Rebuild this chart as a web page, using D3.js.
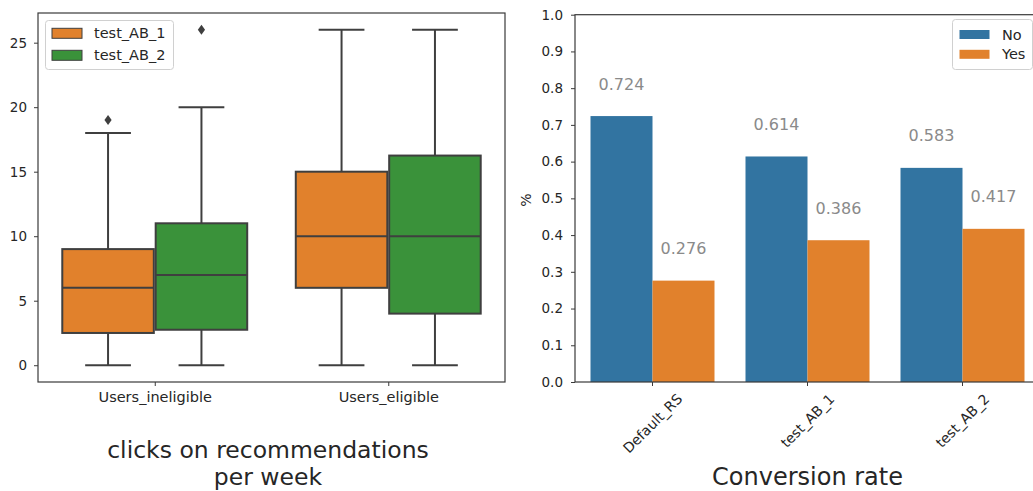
<!DOCTYPE html>
<html>
<head>
<meta charset="utf-8">
<script src="https://cdn.jsdelivr.net/npm/d3@7"></script>
<style>
  html, body { margin: 0; padding: 0; background: #fff; }
  svg { display: block; font-family: "DejaVu Sans", sans-serif; }
</style>
</head>
<body>
<svg id="chart" width="1033" height="491"></svg>
<script>
// ---------------- data ----------------
const boxCategories = ["Users_ineligible", "Users_eligible"];
const boxGroups = ["test_AB_1", "test_AB_2"];
const boxColors = ["#e1812c", "#3a923a"];
// per group, per category
const whiskerLow = [[0, 0], [0, 0]];
const quartile1 = [[2.5, 6], [2.75, 4]];
const medians = [[6, 10], [7, 10]];
const quartile3 = [[9, 15], [11, 16.25]];
const whiskerHigh = [[18, 26], [20, 26]];
const outliers = [[[19], []], [[26], []]];
const boxYTicks = [0, 5, 10, 15, 20, 25];

const barCategories = ["Default_RS", "test_AB_1", "test_AB_2"];
const barSeries = ["No", "Yes"];
const barColors = ["#3274a1", "#e1812c"];
const noValues = [0.724, 0.614, 0.583];
const yesValues = [0.276, 0.386, 0.417];
const barYTicks = [0.0, 0.1, 0.2, 0.3, 0.4, 0.5, 0.6, 0.7, 0.8, 0.9, 1.0];

// ---------------- setup ----------------
const svg = d3.select("#chart");
const textColor = "#262626";
const spineColor = "#3a3a3a";
const edge = "#3f3f3f";

// ===== Left: box plot =====
const L = { left: 38, right: 505, top: 13, bottom: 382 };
const xL = d3.scaleLinear().domain([-0.5, 1.5]).range([L.left, L.right]);
const yL = d3.scaleLinear().domain([-1.3, 27.3]).range([L.bottom, L.top]);
const gL = svg.append("g");

// y ticks
const yAxisL = d3.axisLeft(yL).tickValues(boxYTicks).tickSize(4).tickPadding(7).tickFormat(d3.format("d"));
const yAxL = gL.append("g").attr("transform", `translate(${L.left},0)`).call(yAxisL);
yAxL.select(".domain").remove();
yAxL.selectAll(".tick line").attr("stroke", spineColor);
yAxL.selectAll(".tick text").attr("fill", textColor).style("font-size", "13.5px").style("font-family", "DejaVu Sans");

// x ticks
const xAxisL = d3.axisBottom(xL).tickValues([0, 1]).tickSize(4).tickPadding(6).tickFormat(i => boxCategories[i]);
const xAxL = gL.append("g").attr("transform", `translate(0,${L.bottom})`).call(xAxisL);
xAxL.select(".domain").remove();
xAxL.selectAll(".tick line").attr("stroke", spineColor);
xAxL.selectAll(".tick text").attr("fill", textColor).style("font-size", "14.5px").style("font-family", "DejaVu Sans");

// boxes
const unit = xL(1) - xL(0);
const boxW = 0.392 * unit;
boxGroups.forEach((grp, gi) => {
  boxCategories.forEach((cat, ci) => {
    const cx = xL(ci + (gi === 0 ? -0.2 : 0.2));
    const g = gL.append("g");
    // whiskers
    g.append("line").attr("x1", cx).attr("x2", cx)
      .attr("y1", yL(quartile3[gi][ci])).attr("y2", yL(whiskerHigh[gi][ci]))
      .attr("stroke", edge).attr("stroke-width", 2);
    g.append("line").attr("x1", cx).attr("x2", cx)
      .attr("y1", yL(quartile1[gi][ci])).attr("y2", yL(whiskerLow[gi][ci]))
      .attr("stroke", edge).attr("stroke-width", 2);
    // caps
    [whiskerHigh[gi][ci], whiskerLow[gi][ci]].forEach(v => {
      g.append("line").attr("x1", cx - boxW / 4).attr("x2", cx + boxW / 4)
        .attr("y1", yL(v)).attr("y2", yL(v))
        .attr("stroke", edge).attr("stroke-width", 2);
    });
    // box
    g.append("rect").attr("x", cx - boxW / 2).attr("width", boxW)
      .attr("y", yL(quartile3[gi][ci]))
      .attr("height", yL(quartile1[gi][ci]) - yL(quartile3[gi][ci]))
      .attr("fill", boxColors[gi]).attr("stroke", edge).attr("stroke-width", 2);
    // median
    g.append("line").attr("x1", cx - boxW / 2).attr("x2", cx + boxW / 2)
      .attr("y1", yL(medians[gi][ci])).attr("y2", yL(medians[gi][ci]))
      .attr("stroke", edge).attr("stroke-width", 2);
    // outliers (diamonds)
    outliers[gi][ci].forEach(v => {
      const y = yL(v);
      g.append("path")
        .attr("d", `M${cx},${y - 5} L${cx + 3.6},${y} L${cx},${y + 5} L${cx - 3.6},${y} Z`)
        .attr("fill", edge);
    });
  });
});

// spines
gL.append("rect").attr("x", L.left).attr("y", L.top)
  .attr("width", L.right - L.left).attr("height", L.bottom - L.top)
  .attr("fill", "none").attr("stroke", spineColor).attr("stroke-width", 1.2);

// legend left
const legL = gL.append("g");
legL.append("rect").attr("x", 45.5).attr("y", 20.5).attr("width", 128).attr("height", 49)
  .attr("rx", 3).attr("fill", "#fff").attr("fill-opacity", 0.8)
  .attr("stroke", "#d0d0d0").attr("stroke-width", 1);
boxGroups.forEach((grp, i) => {
  const cy = 33.3 + i * 22;
  legL.append("rect").attr("x", 52).attr("y", cy - 5).attr("width", 30).attr("height", 10)
    .attr("fill", boxColors[i]).attr("stroke", edge).attr("stroke-width", 1);
  legL.append("text").attr("x", 94).attr("y", cy).attr("dy", "0.35em")
    .attr("fill", textColor).style("font-size", "14.5px").text(grp);
});

// title left (two lines)
const titleLines = ["clicks on recommendations", "per week"];
titleLines.forEach((line, i) => {
  svg.append("text").attr("x", 268).attr("y", 458 + i * 27).attr("text-anchor", "middle")
    .attr("fill", textColor).style("font-size", "23.5px").text(line);
});

// ===== Right: bar chart =====
const R = { left: 575, right: 1040, top: 14.7, bottom: 382 };
const xR = d3.scaleBand().domain(barCategories).range([R.left, R.right]).paddingInner(0.2).paddingOuter(0.1);
const xSub = d3.scaleBand().domain(barSeries).range([0, xR.bandwidth()]);
const yR = d3.scaleLinear().domain([0, 1]).range([R.bottom, R.top]);
const gR = svg.append("g");

const barRows = barCategories.map((c, i) => ({ cat: c, vals: [noValues[i], yesValues[i]] }));
barRows.forEach(row => {
  row.vals.forEach((v, si) => {
    gR.append("rect")
      .attr("x", xR(row.cat) + xSub(barSeries[si]))
      .attr("width", xSub.bandwidth())
      .attr("y", yR(v))
      .attr("height", yR(0) - yR(v))
      .attr("fill", barColors[si]);
    gR.append("text")
      .attr("x", xR(row.cat) + xSub(barSeries[si]) + xSub.bandwidth() / 2)
      .attr("y", yR(v) - 26.5)
      .attr("text-anchor", "middle")
      .attr("fill", "#8a8a8a")
      .style("font-size", "16px")
      .text(v.toFixed(3));
  });
});

// y axis right
const yAxisR = d3.axisLeft(yR).tickValues(barYTicks).tickSize(4).tickPadding(8).tickFormat(d3.format(".1f"));
const yAxR = gR.append("g").attr("transform", `translate(${R.left},0)`).call(yAxisR);
yAxR.select(".domain").remove();
yAxR.selectAll(".tick line").attr("stroke", spineColor);
yAxR.selectAll(".tick text").attr("fill", textColor).style("font-size", "13.5px").style("font-family", "DejaVu Sans");

// x axis right (rotated labels)
const xAxisR = d3.axisBottom(xR).tickSize(4).tickFormat("");
const xAxR = gR.append("g").attr("transform", `translate(0,${R.bottom})`).call(xAxisR);
xAxR.select(".domain").remove();
xAxR.selectAll(".tick line").attr("stroke", spineColor);
barCategories.forEach(c => {
  const cx = xR(c) + xR.bandwidth() / 2;
  const t = gR.append("text").attr("text-anchor", "middle").attr("dominant-baseline", "central")
    .attr("fill", textColor).style("font-size", "14px").text(c);
  const w = t.node().getComputedTextLength();
  const size = (w + 15) * Math.SQRT1_2;
  const cy = 391 + size / 2;
  t.attr("x", cx).attr("y", cy).attr("transform", `rotate(-45,${cx},${cy})`);
});

// spines right (left, top, bottom; right is outside view)
gR.append("rect").attr("x", R.left).attr("y", R.top)
  .attr("width", R.right - R.left).attr("height", R.bottom - R.top)
  .attr("fill", "none").attr("stroke", spineColor).attr("stroke-width", 1.2);

// ylabel
svg.append("text").attr("transform", "translate(531,200) rotate(-90)")
  .attr("text-anchor", "middle").attr("fill", textColor).style("font-size", "14px").text("%");

// legend right
const legR = gR.append("g");
legR.append("rect").attr("x", 952.5).attr("y", 19.5).attr("width", 80).attr("height", 50)
  .attr("rx", 3).attr("fill", "#fff").attr("fill-opacity", 0.8)
  .attr("stroke", "#d0d0d0").attr("stroke-width", 1);
barSeries.forEach((s, i) => {
  const cy = 34.5 + i * 19.8;
  legR.append("rect").attr("x", 959.5).attr("y", cy - 4.5).attr("width", 30).attr("height", 9)
    .attr("fill", barColors[i]);
  legR.append("text").attr("x", 1002).attr("y", cy).attr("dy", "0.35em")
    .attr("fill", textColor).style("font-size", "14.5px").text(s);
});

// title right
svg.append("text").attr("x", 807.5).attr("y", 485).attr("text-anchor", "middle")
  .attr("fill", textColor).style("font-size", "24px").text("Conversion rate");
</script>
</body>
</html>
